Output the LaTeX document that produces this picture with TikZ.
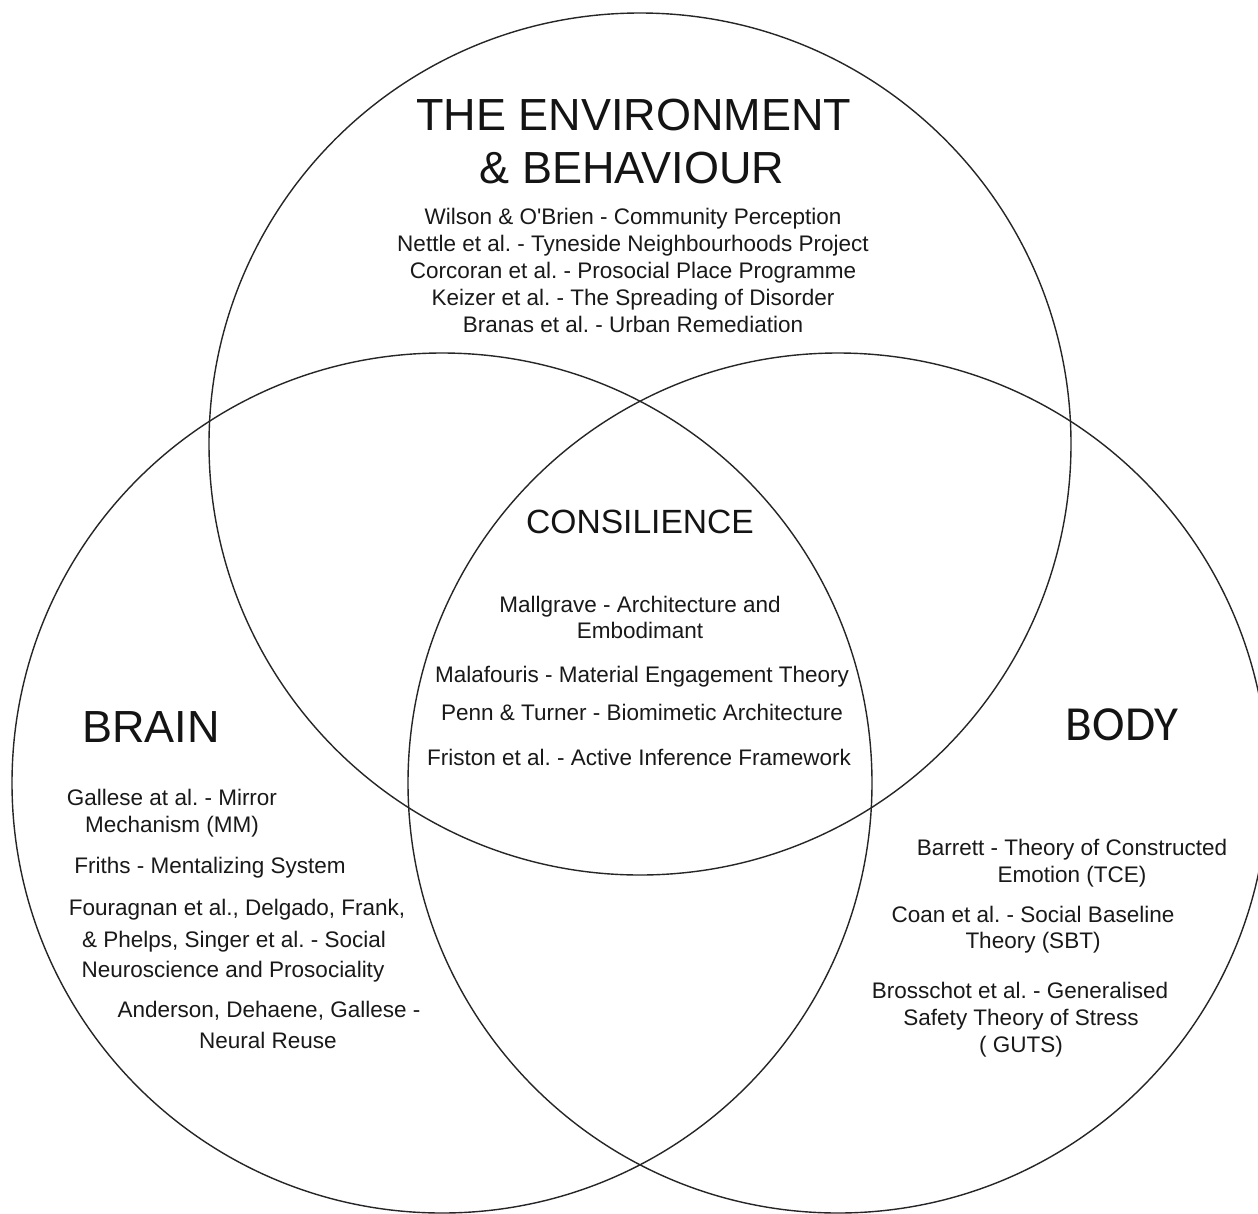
\documentclass[tikz,border=0pt]{standalone}
\usepackage{fontspec}
\setmainfont{Liberation Sans}
\newfontfamily\bodyfont{Carlito}
\frenchspacing
\begin{document}
\begin{tikzpicture}[x=1pt,y=-1pt,
  venn/.style={circle,draw=black!85,line width=1.4pt,inner sep=0pt,outer sep=0pt},
  txt/.style={inner sep=0pt,anchor=base,font=\frenchspacing\fontsize{22.5}{27}\selectfont,text=black!90},
  big/.style={inner sep=0pt,anchor=base,font=\fontsize{45}{53}\selectfont,text=black!92},
  mid/.style={inner sep=0pt,anchor=base,font=\fontsize{33.6}{38}\selectfont,text=black!92}]
\useasboundingbox (0,0) rectangle (1258,1213);
\clip (0,0) rectangle (1258,1213);
\fill[white] (0,0) rectangle (1258,1213);
% circles
\node[venn,minimum size=862pt] (envC) at (640,444) {};
\node[venn,minimum size=860pt] (brainC) at (442,783) {};
\node[venn,minimum size=860pt] (bodyC) at (838,783) {};
% environment
\node[big] (t1) at (634,130) {THE ENVIRONMENT};
\node[big] (t2) at (632,183) {\& BEHAVIOUR};
\node[txt] (e1) at (633,224) {Wilson \& O\textquotesingle Brien - Community Perception};
\node[txt] (e2) at (633,251) {Nettle et al. - Tyneside Neighbourhoods Project};
\node[txt] (e3) at (633,278) {Corcoran et al. - Prosocial Place Programme};
\node[txt] (e4) at (633,305) {Keizer et al. - The Spreading of Disorder};
\node[txt] (e5) at (633,332) {Branas et al. - Urban Remediation};
% consilience
\node[mid] (cons) at (640,533) {CONSILIENCE};
\node[txt] (c1) at (640,612) {Mallgrave - Architecture and};
\node[txt] (c2) at (640,638) {Embodimant};
\node[txt] (c3) at (642,682) {Malafouris - Material Engagement Theory};
\node[txt] (c4) at (642,720) {Penn \& Turner - Biomimetic Architecture};
\node[txt] (c5) at (639,765) {Friston et al. - Active Inference Framework};
% brain
\node[big] (brain) at (151,742) {BRAIN};
\node[txt] (b1) at (172,805) {Gallese at al. - Mirror};
\node[txt] (b2) at (172,832) {Mechanism (MM)};
\node[txt] (b3) at (210,873) {Friths - Mentalizing System};
\node[txt] (b4) at (237,915) {Fouragnan et al., Delgado, Frank,};
\node[txt] (b5) at (234,947) {\& Phelps, Singer et al. - Social};
\node[txt] (b6) at (233,977) {Neuroscience and Prosociality};
\node[txt] (b7) at (269,1017) {Anderson, Dehaene, Gallese -};
\node[txt] (b8) at (268,1048) {Neural Reuse};
% body
\node[inner sep=0pt,anchor=base,font=\bodyfont\fontsize{49}{58}\selectfont,text=black!92] (body) at (1122,740) {BODY};
\node[txt] (d1) at (1072,855) {Barrett - Theory of Constructed};
\node[txt] (d2) at (1072,882) {Emotion (TCE)};
\node[txt] (d3) at (1033,922) {Coan et al. - Social Baseline};
\node[txt] (d4) at (1033,948) {Theory (SBT)};
\node[txt] (d5) at (1020,998) {Brosschot et al. - Generalised};
\node[txt] (d6) at (1021,1025) {Safety Theory of Stress};
\node[txt] (d7) at (1021,1052) {( GUTS)};
\end{tikzpicture}
\end{document}
